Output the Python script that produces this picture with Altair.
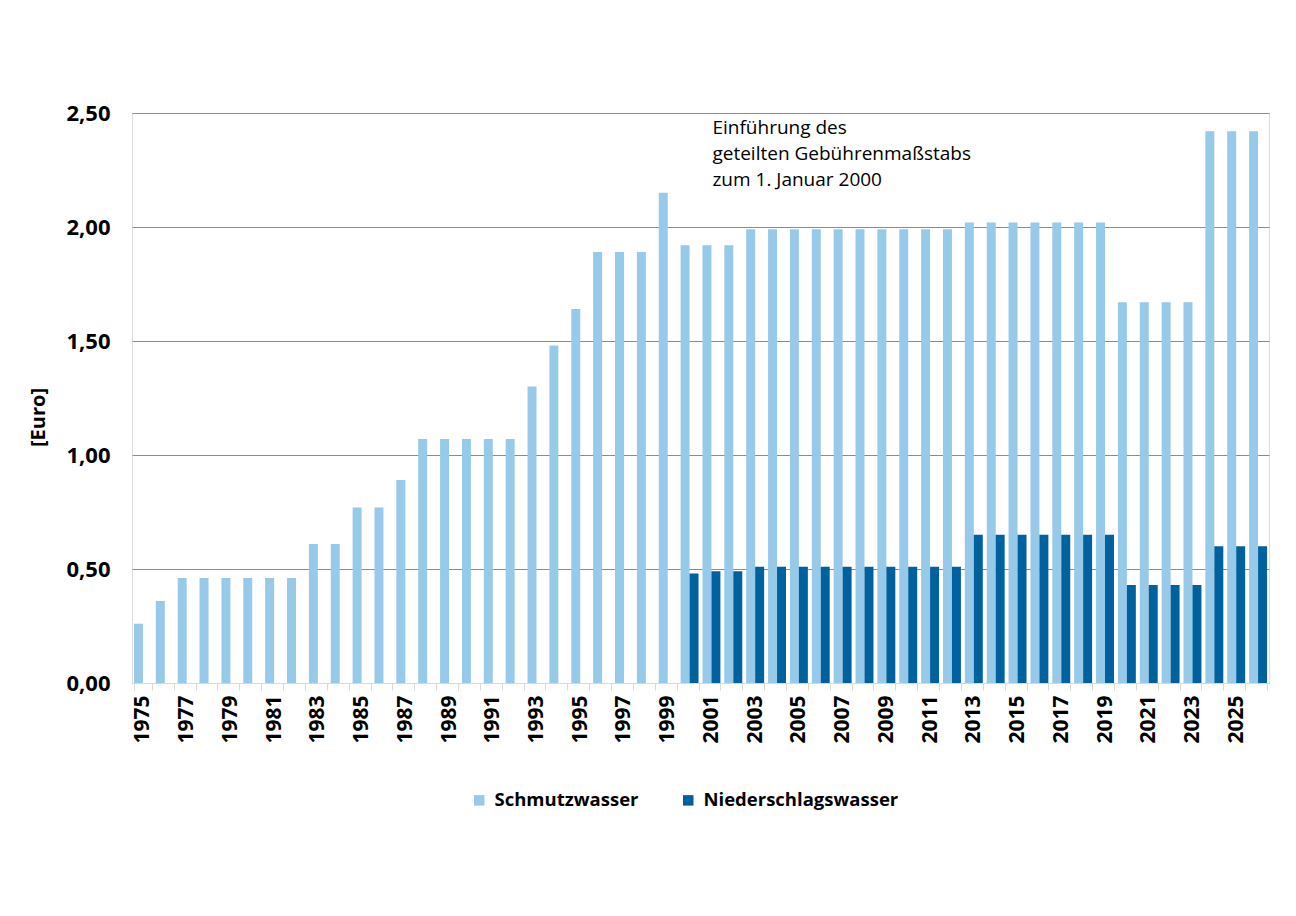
import altair as alt
import pandas as pd

years = [str(y) for y in range(1975, 2027)]

schmutzwasser = [
    0.26, 0.36, 0.46, 0.46, 0.46, 0.46, 0.46, 0.46, 0.61, 0.61,
    0.77, 0.77, 0.89, 1.07, 1.07, 1.07, 1.07, 1.07, 1.30, 1.48,
    1.64, 1.89, 1.89, 1.89, 2.15, 1.92, 1.92, 1.92, 1.99, 1.99,
    1.99, 1.99, 1.99, 1.99, 1.99, 1.99, 1.99, 1.99, 2.02, 2.02,
    2.02, 2.02, 2.02, 2.02, 2.02, 1.67, 1.67, 1.67, 1.67, 2.42,
    2.42, 2.42,
]

nieder_years = [str(y) for y in range(2000, 2027)]
niederschlagswasser = [
    0.48, 0.49, 0.49, 0.51, 0.51, 0.51, 0.51, 0.51, 0.51, 0.51,
    0.51, 0.51, 0.51, 0.65, 0.65, 0.65, 0.65, 0.65, 0.65, 0.65,
    0.43, 0.43, 0.43, 0.43, 0.60, 0.60, 0.60,
]

series = ["Schmutzwasser", "Niederschlagswasser"]
colors = ["#97C9E9", "#00619F"]

rows = [{"Jahr": y, "Serie": series[0], "Wert": v} for y, v in zip(years, schmutzwasser)]
rows += [{"Jahr": y, "Serie": series[1], "Wert": v} for y, v in zip(nieder_years, niederschlagswasser)]
df = pd.DataFrame(rows)

FONT = "Open Sans"

bars = alt.Chart(df).mark_bar().encode(
    x=alt.X(
        "Jahr:N",
        sort=years,
        scale=alt.Scale(domain=years, paddingInner=0.18, paddingOuter=0.09),
        axis=alt.Axis(
            title=None,
            labelAngle=-90,
            labelAlign="right",
            labelBaseline="middle",
            labelFont=FONT,
            labelFontSize=21,
            labelFontWeight="bold",
            labelColor="#000000",
            labelPadding=5,
            labelOverlap=False,
            labelExpr="toNumber(datum.value) % 2 == 1 ? datum.value : ''",
            tickBand="extent",
            tickColor="#d9d9d9",
            tickSize=7,
            domainColor="#d9d9d9",
            grid=False,
        ),
    ),
    xOffset=alt.XOffset(
        "Serie:N",
        sort=series,
        scale=alt.Scale(domain=series, paddingInner=0, paddingOuter=0),
    ),
    y=alt.Y(
        "Wert:Q",
        scale=alt.Scale(domain=[0, 2.5], nice=False),
        axis=alt.Axis(
            title="[Euro]",
            values=[0, 0.5, 1.0, 1.5, 2.0, 2.5],
            labelExpr="replace(format(datum.value, '.2f'), '.', ',')",
            labelFont=FONT,
            labelFontSize=22,
            labelFontWeight="bold",
            labelColor="#000000",
            labelPadding=22,
            ticks=False,
            domain=False,
            grid=True,
            gridColor="#8c8c8c",
            gridWidth=1,
            titleFont=FONT,
            titleFontSize=20,
            titleFontWeight="bold",
            titleColor="#000000",
            titleAngle=-90,
            titleX=-94,
            titleY=304,
            titleAlign="center",
            titleBaseline="middle",
        ),
    ),
    color=alt.Color(
        "Serie:N",
        sort=series,
        scale=alt.Scale(domain=series, range=colors),
        legend=alt.Legend(
            title=None,
            orient="none",
            direction="horizontal",
            legendX=338,
            legendY=678,
            symbolType="square",
            symbolSize=110,
            symbolStrokeWidth=0,
            labelFont=FONT,
            labelFontSize=18.5,
            labelFontWeight="bold",
            labelColor="#000000",
            labelOffset=6,
            labelLimit=0,
            columnPadding=40,
        ),
    ),
)

note = alt.Chart(pd.DataFrame({"Jahr": ["2001"], "Wert": [2.475]})).mark_text(
    text=["Einführung des", "geteilten Gebührenmaßstabs", "zum 1. Januar 2000"],
    align="left",
    baseline="top",
    font=FONT,
    fontSize=19,
    lineHeight=26,
    color="#000000",
    dx=1,
).encode(
    x=alt.X("Jahr:N", sort=years),
    y=alt.Y("Wert:Q"),
)

chart = alt.layer(bars, note).properties(
    width=1137,
    height=570,
    autosize="none",
    padding={"left": 132, "top": 113, "right": 27, "bottom": 233},
).configure_view(stroke=None).configure(background="#ffffff")

chart.save("out.html", embed_options={"renderer": "svg", "actions": False})
